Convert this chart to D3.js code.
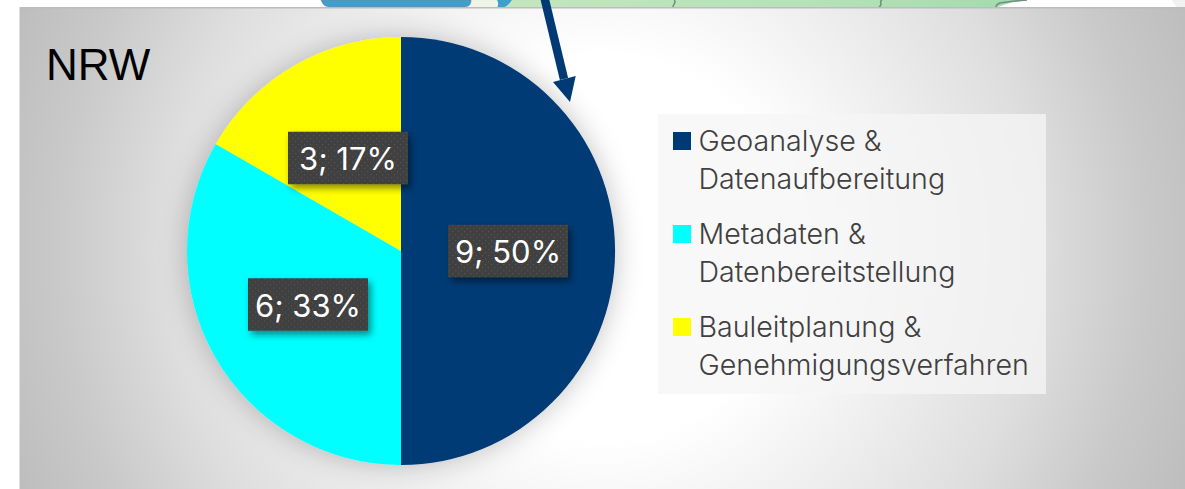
<!DOCTYPE html>
<html><head><meta charset="utf-8">
<script src="https://cdnjs.cloudflare.com/ajax/libs/d3/7.8.5/d3.min.js"></script>
<style>html,body{margin:0;padding:0;background:#fff;overflow:hidden}svg{display:block}</style>
</head><body><svg id="c" width="1185" height="489"></svg>
<script>
const title = "NRW";
const categories = ["Geoanalyse & Datenaufbereitung","Metadaten & Datenbereitstellung","Bauleitplanung & Genehmigungsverfahren"];
const legendLines = [["Geoanalyse &","Datenaufbereitung"],["Metadaten &","Datenbereitstellung"],["Bauleitplanung &","Genehmigungsverfahren"]];
const values = [9,6,3];
const percents = ["50%","33%","17%"];
const colors = ["#003a75","#00ffff","#ffff00"];
const labelCentres = [[508,251],[308,304.5],[348,158]];

const svg = d3.select("#c");
const defs = svg.append("defs");
const bg = defs.append("radialGradient").attr("id","bg").attr("gradientUnits","userSpaceOnUse")
  .attr("cx",602).attr("cy",248).attr("r",640);
[[0,"#ffffff"],[0.3,"#ffffff"],[0.68,"#dedede"],[0.85,"#c9c9c9"],[1,"#bcbcbc"]].forEach(s=>bg.append("stop").attr("offset",s[0]).attr("stop-color",s[1]));
const f1 = defs.append("filter").attr("id","pieShadow").attr("x","-25%").attr("y","-25%").attr("width","150%").attr("height","150%");
f1.append("feDropShadow").attr("dx",0).attr("dy",0).attr("stdDeviation",14).attr("flood-color","#000").attr("flood-opacity",0.24);
const f2 = defs.append("filter").attr("id","lblShadow").attr("x","-20%").attr("y","-30%").attr("width","140%").attr("height","170%");
f2.append("feDropShadow").attr("dx",3).attr("dy",4).attr("stdDeviation",3.5).attr("flood-color","#000").attr("flood-opacity",0.45);
const pat = defs.append("pattern").attr("id","dots").attr("patternUnits","userSpaceOnUse").attr("width",6).attr("height",6);
pat.append("rect").attr("width",6).attr("height",6).attr("fill","#404040");
pat.append("rect").attr("x",1).attr("y",1).attr("width",1.2).attr("height",1.2).attr("fill","#525252");
pat.append("rect").attr("x",4).attr("y",4).attr("width",1.2).attr("height",1.2).attr("fill","#525252");

// cropped map strip above the panel
const strip = svg.append("g");
const gr = defs.append("linearGradient").attr("id","land");
[[0,"#c3e6bd"],[0.6,"#b5e2b7"],[1,"#a2dbae"]].forEach(s=>gr.append("stop").attr("offset",s[0]).attr("stop-color",s[1]));
strip.append("rect").attr("x",471).attr("y",0).attr("width",30).attr("height",8).attr("fill","#eef5e8");
strip.append("path").attr("d","M512,0H1027C1015,2 1005,3 996,8H503C508,6 510,3 512,0Z").attr("fill","url(#land)");
strip.append("path").attr("d","M321,0C323,5 325,7 331,7H463C469,7 471,5 471,0Z").attr("fill","#3f9fcc").attr("stroke","#7a8a96").attr("stroke-width",0.6);
strip.append("path").attr("d","M497,0C499,3 498,6 497,8H503C508,6 510,3 512,0Z").attr("fill","#3f9fcc");
["M674,0C677,2 673,4 673,7","M882,0C878,2 884,4 879,7","M1027,0C1015,1 1005,2 1000,3C997,4 996,5 996,7"].forEach(d=>{
  strip.append("path").attr("d",d).attr("fill","none").attr("stroke","#6f8f80").attr("stroke-width",1.5);
});
strip.append("path").attr("d","M1172,0H1185V8H1177Z").attr("fill","#f1f1f1");

svg.append("rect").attr("x",19.5).attr("y",8).attr("width",1170).attr("height",485).attr("fill","url(#bg)");
svg.append("rect").attr("x",19.5).attr("y",7).attr("width",1170).attr("height",1.5).attr("fill","#bcbcbc");

svg.append("text").attr("x",46).attr("y",79.5).attr("font-family","Liberation Sans").attr("font-size",44).attr("fill","#000").text(title);

const color = d3.scaleOrdinal().domain(categories).range(colors);
const pie = d3.pie().sort(null).value((d,i)=>values[i]);
const arc = d3.arc().innerRadius(0).outerRadius(214);
const arcs = pie(categories);
const pg = svg.append("g").attr("transform","translate(401,251)").attr("filter","url(#pieShadow)");
pg.selectAll("path").data(arcs).join("path").attr("d",arc).attr("fill",d=>color(d.data));

// arrow
const arrowPts = [[544.5,-2],[564,79]];
svg.append("path").attr("d",d3.line()(arrowPts)).attr("stroke","#003a75").attr("stroke-width",8.5).attr("fill","none");
svg.append("path").attr("d",d3.line()([[553,82],[575.7,76],[570,102]])).attr("fill","#003a75");

// data labels
const lw=120, lh=52.5;
const lg = svg.append("g").selectAll("g").data(categories).join("g")
  .attr("transform",(d,i)=>`translate(${labelCentres[i][0]},${labelCentres[i][1]})`);
lg.append("rect").attr("x",-lw/2).attr("y",-lh/2).attr("width",lw).attr("height",lh).attr("fill","url(#dots)").attr("filter","url(#lblShadow)");
lg.append("text").attr("text-anchor","middle").attr("y",12).attr("font-family","Inter").attr("font-size",31).attr("fill","#fff")
  .text((d,i)=>`${values[i]}; ${percents[i]}`);

// legend
svg.append("rect").attr("x",658).attr("y",114).attr("width",388).attr("height",280).attr("fill","#f5f5f5").attr("fill-opacity",0.75);
const rowY = d3.scalePoint().domain(categories).range([150.5,336.5]);
const leg = svg.append("g").selectAll("g").data(categories).join("g").attr("transform",d=>`translate(0,${rowY(d)})`);
leg.append("rect").attr("x",673).attr("y",-18.5).attr("width",18).attr("height",18).attr("fill",d=>color(d));
leg.each(function(d,i){
  const g=d3.select(this);
  legendLines[i].forEach((t,j)=>g.append("text").attr("x",698.5).attr("y",j*38.5).attr("font-family","Inter").attr("font-weight",300).attr("font-size",28.6).attr("fill","#404040").text(t));
});
</script></body></html>
